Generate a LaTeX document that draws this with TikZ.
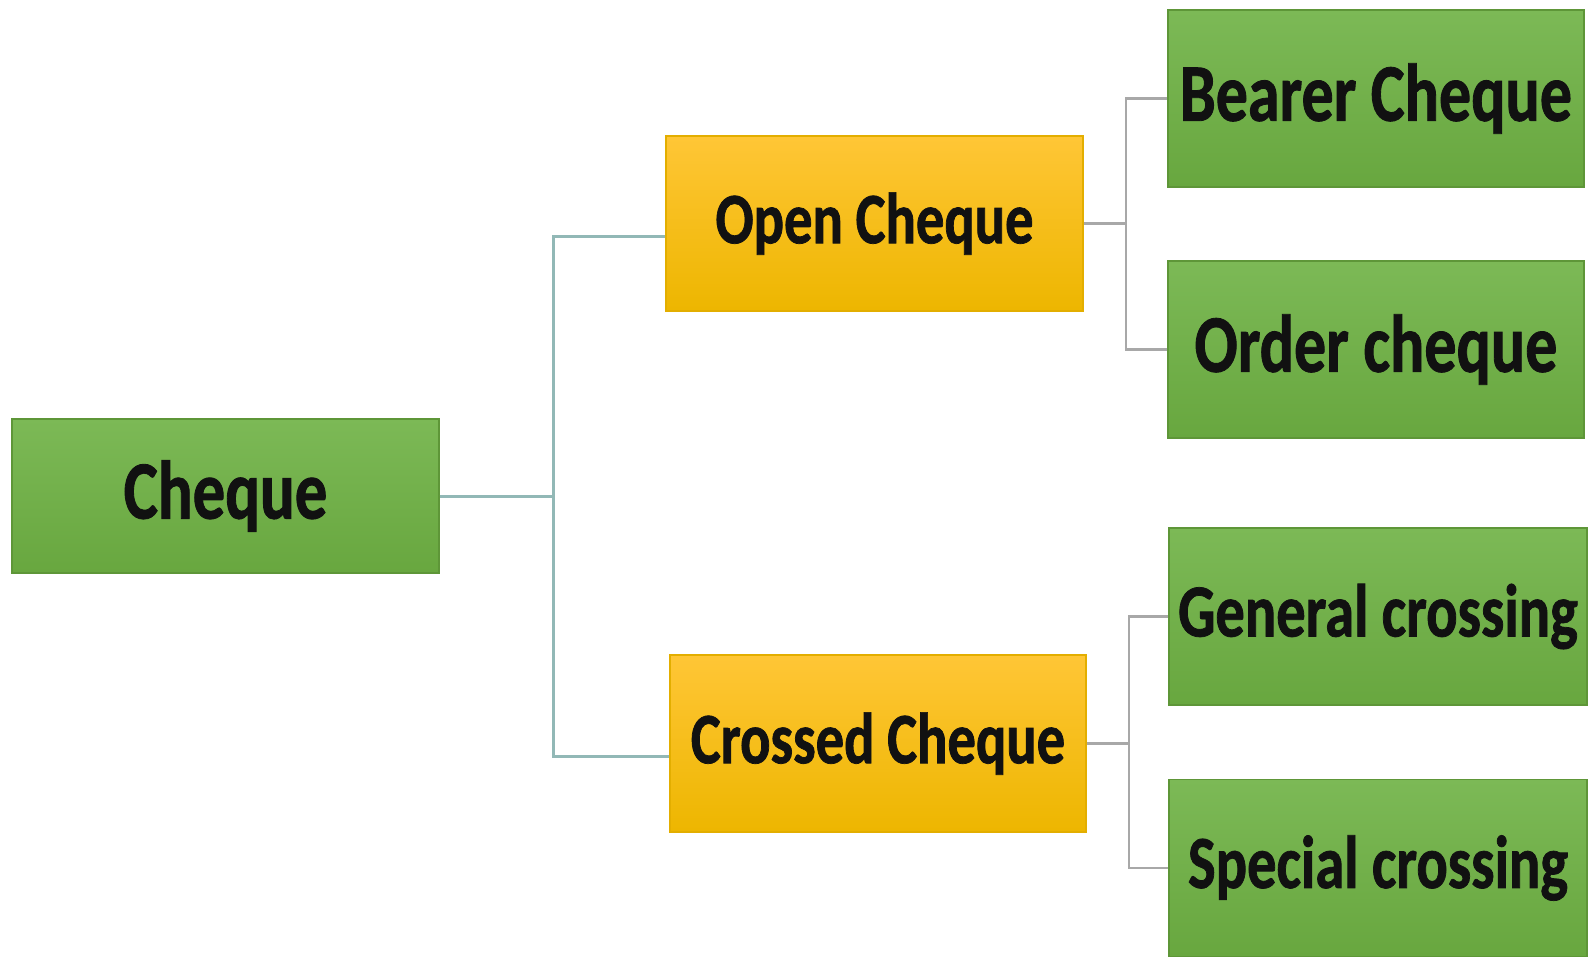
\documentclass[tikz,border=0pt]{standalone}
\usepackage{fontspec}
\setmainfont{Carlito}
\newfontfamily\boxfont{Carlito}[FakeStretch=0.78, FakeBold=1]
\definecolor{leafgreen}{HTML}{70AD47}
\definecolor{leaftop}{HTML}{7CB956}
\definecolor{leafbot}{HTML}{68A73F}
\definecolor{leafedge}{HTML}{5E9638}
\definecolor{goldtop}{HTML}{FFC636}
\definecolor{goldbot}{HTML}{EDB600}
\definecolor{goldedge}{HTML}{E3AE00}
\definecolor{tealline}{HTML}{92B8B6}
\definecolor{greyline}{HTML}{A8A8A8}
\definecolor{inktext}{HTML}{111111}
\tikzset{
  greenbox/.style={rectangle, draw=leafedge, line width=1.2pt,
    top color=leaftop, bottom color=leafbot, text=inktext,
    inner sep=0pt, font=\boxfont\bfseries},
  goldbox/.style={rectangle, draw=goldedge, line width=1.2pt,
    top color=goldtop, bottom color=goldbot, text=inktext,
    inner sep=0pt, font=\boxfont\bfseries},
  trunk/.style={draw=tealline, line width=3pt},
  twig/.style={draw=greyline, line width=2.2pt},
}
\begin{document}
\begin{tikzpicture}[x=1pt, y=-1pt]
  \clip (0,0) rectangle (1589,956);
  \fill[white] (0,0) rectangle (1589,956);

  % root
  \node[greenbox, minimum width=427pt, minimum height=154pt,
        font=\boxfont\bfseries\fontsize{83}{90}\selectfont]
        (cheque) at (225.5,496) {Cheque};

  % second level
  \node[goldbox, minimum width=417pt, minimum height=175pt,
        font=\boxfont\bfseries\fontsize{72.5}{80}\selectfont]
        (open) at (874.5,223.5) {Open Cheque};
  \node[goldbox, minimum width=416pt, minimum height=177pt,
        font=\boxfont\bfseries\fontsize{72.5}{80}\selectfont]
        (crossed) at (878,743.5) {Crossed Cheque};

  % leaves
  \node[greenbox, minimum width=416pt, minimum height=177pt,
        font=\boxfont\bfseries\fontsize{82}{90}\selectfont]
        (bearer) at (1376,98.5) {Bearer Cheque};
  \node[greenbox, minimum width=416pt, minimum height=177pt,
        font=\boxfont\bfseries\fontsize{82}{90}\selectfont]
        (order) at (1376,349.5) {Order cheque};
  \node[greenbox, minimum width=418pt, minimum height=177pt,
        font=\boxfont\bfseries\fontsize{75}{82}\selectfont]
        (general) at (1378,616.5) {General crossing};
  \node[greenbox, minimum width=418pt, minimum height=177pt,
        font=\boxfont\bfseries\fontsize{75}{82}\selectfont]
        (special) at (1378,868) {Special crossing};

  % junction points of the elbow connectors
  \coordinate (j1) at (553,496);
  \coordinate (j2) at (1126,223.5);
  \coordinate (j3) at (1129,743.5);

  % root to second level
  \draw[trunk] (cheque.east) -- (j1);
  \draw[trunk] ([yshift=-12.5pt]open.west) -| (j1) |- ([yshift=-12.5pt]crossed.west);

  % second level to leaves
  \draw[twig] (open.east) -- (j2);
  \draw[twig] (bearer.west) -| (j2) |- (order.west);
  \draw[twig] (crossed.east) -- (j3);
  \draw[twig] (general.west) -| (j3) |- (special.west);
\end{tikzpicture}
\end{document}
